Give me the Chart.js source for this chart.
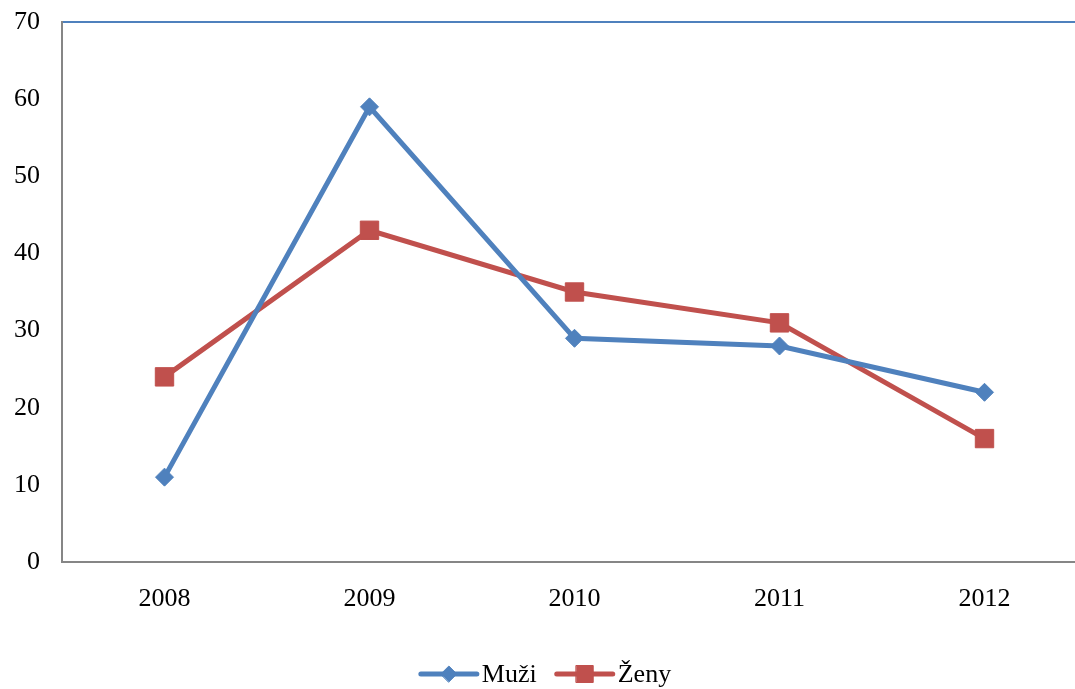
<!DOCTYPE html>
<html>
<head>
<meta charset="utf-8">
<script src="https://cdn.jsdelivr.net/npm/chart.js@4"></script>
<style>
  html, body { margin: 0; padding: 0; background: #fff; overflow: hidden; }
  #wrap { position: absolute; left: 0; top: 0; width: 1100px; height: 689px; }
</style>
</head>
<body>
<div id="wrap"><canvas id="chart"></canvas></div>
<script>
const years = ["2008", "2009", "2010", "2011", "2012"];
const muzi = [11, 59, 29, 28, 22];
const zeny = [24, 43, 35, 31, 16];
const yTicks = [0, 10, 20, 30, 40, 50, 60, 70];

const FONT = "'Liberation Serif', 'Times New Roman', serif";
const BLUE = "#4f81bd";
const RED = "#c0504d";
const AXIS = "#868686";

// legend drawn by hand: short line with the marker on it, then the label
const lineLegend = {
  id: "lineLegend",
  afterDraw(chart) {
    const ctx = chart.ctx;
    const sets = chart.data.datasets;
    const segW = 56, gapText = 5, gapItem = 20;
    ctx.save();
    ctx.font = "26px " + FONT;
    const widths = sets.map((d) => segW + gapText + ctx.measureText(d.label).width);
    const total = widths.reduce((a, b) => a + b, 0) + gapItem * (sets.length - 1);
    let x = (chart.width - total) / 2 - 4;
    const y = 674;
    sets.forEach((d, i) => {
      ctx.strokeStyle = d.borderColor;
      ctx.fillStyle = d.borderColor;
      ctx.lineWidth = 5;
      ctx.lineCap = "round";
      ctx.beginPath();
      ctx.moveTo(x, y);
      ctx.lineTo(x + segW, y);
      ctx.stroke();
      ctx.lineWidth = 1;
      Chart.helpers.drawPoint(ctx, {
        pointStyle: d.pointStyle,
        radius: d.legendRadius,
        borderWidth: 1
      }, x + segW / 2, y);
      ctx.fillStyle = "#000";
      ctx.textBaseline = "middle";
      ctx.textAlign = "left";
      ctx.fillText(d.label, x + segW + gapText, y + 1);
      x += widths[i] + gapItem;
    });
    ctx.restore();
  }
};

new Chart(document.getElementById("chart"), {
  type: "line",
  data: {
    labels: years,
    datasets: [
      {
        label: "Muži",
        data: muzi,
        borderColor: BLUE,
        backgroundColor: BLUE,
        borderWidth: 5,
        pointStyle: "rectRot",
        pointRadius: 9,
        legendRadius: 8,
        pointBorderWidth: 1,
        pointBackgroundColor: BLUE,
        pointBorderColor: BLUE,
        tension: 0
      },
      {
        label: "Ženy",
        data: zeny,
        borderColor: RED,
        backgroundColor: RED,
        borderWidth: 5,
        pointStyle: "rect",
        pointRadius: 13,
        legendRadius: 12,
        pointBorderWidth: 1,
        pointBackgroundColor: RED,
        pointBorderColor: RED,
        tension: 0
      }
    ]
  },
  options: {
    responsive: true,
    maintainAspectRatio: false,
    animation: false,
    layout: { autoPadding: false, padding: { top: 22, right: 13, bottom: 0, left: 0 } },
    plugins: {
      legend: { display: false },
      tooltip: { enabled: false }
    },
    scales: {
      x: {
        offset: true,
        grid: { display: true, color: "transparent", drawTicks: false },
        border: { display: true, color: AXIS, width: 2 },
        ticks: { color: "#000", font: { family: FONT, size: 26 }, padding: 22, maxRotation: 0 },
        afterFit(scale) { scale.height = 127; }
      },
      y: {
        min: 0,
        max: 70,
        afterBuildTicks(scale) { scale.ticks = yTicks.map((v) => ({ value: v })); },
        grid: {
          drawTicks: false,
          lineWidth: 2,
          color: (c) => (c.tick && c.tick.value === 70 ? BLUE : "transparent")
        },
        border: { display: true, color: AXIS, width: 2 },
        ticks: { color: "#000", font: { family: FONT, size: 26 }, padding: 22 },
        afterFit(scale) {
          scale.width = 62;
          scale.paddingTop = 0;
          scale.paddingBottom = 0;
        }
      }
    }
  },
  plugins: [lineLegend]
});
</script>
</body>
</html>
